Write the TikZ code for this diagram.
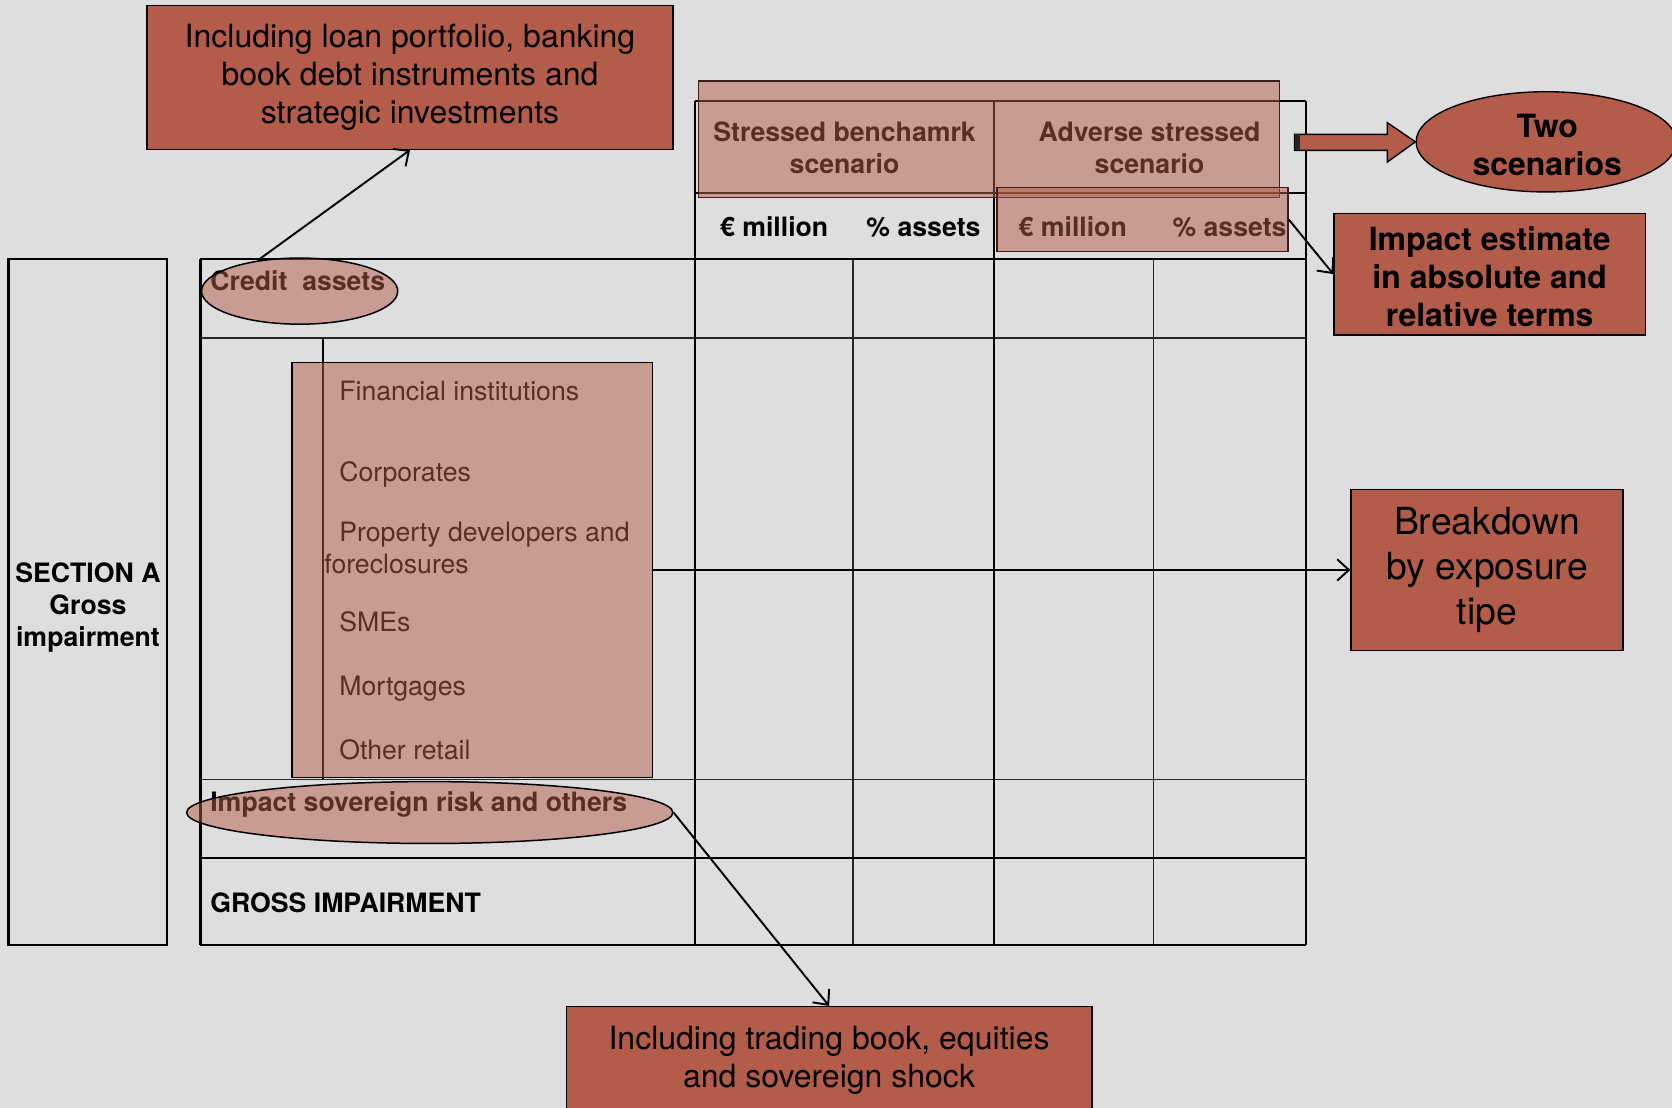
\documentclass[tikz,border=0pt]{standalone}
\usepackage{fontspec}
\setmainfont{TeX Gyre Heros}
\usetikzlibrary{shapes.geometric,arrows.meta,calc}
\definecolor{bgc}{RGB}{222,222,222}
\definecolor{rust}{RGB}{179,92,73}
\definecolor{ovborder}{RGB}{60,30,25}
\begin{document}
\begin{tikzpicture}[x=1pt,y=-1pt,
  thickline/.style={line width=2pt,black},
  thinline/.style={line width=1.1pt,black!85},
  rustbox/.style={draw=black,line width=1.3pt,fill=rust,rectangle,inner sep=0pt,align=center},
  pinkov/.style={fill=rust,fill opacity=0.5,draw=ovborder,line width=1.4pt,inner sep=0pt},
  arr/.style={-{Straight Barb[length=11pt,width=20pt,line width=1.8pt]},line width=1.8pt,black},
  big/.style={font=\fontsize{30}{36}\selectfont},
  bigbold/.style={font=\fontsize{30}{36}\selectfont\bfseries},
  mid/.style={font=\fontsize{25}{30}\selectfont},
  midbold/.style={font=\fontsize{25}{30}\selectfont\bfseries},
  txt/.style={inner sep=0pt,align=center}
]
\useasboundingbox (0,0) rectangle (1568,1039);
\clip (0,0) rectangle (1568,1039);
\fill[bgc] (0,0) rectangle (1568,1039);

% ---- table lines
\draw[thinline] (800,243) -- (800,886);
\draw[thinline] (1082,243) -- (1082,886);
\draw[thinline] (188,317) -- (1225,317);
\draw[thinline] (188,731) -- (1225,731);
\draw[line width=1.7pt,black] (303,317) -- (303,731);
\draw[thickline] (652,95) -- (1225,95);
\draw[thickline] (652,181) -- (1225,181);
\draw[thickline] (188,243) -- (1225,243);
\draw[thickline] (188,805) -- (1225,805);
\draw[thickline] (188,886) -- (1225,886);
\draw[thickline] (188,243) -- (188,886);
\draw[thickline] (652,95) -- (652,886);
\draw[thickline] (932,95) -- (932,886);
\draw[thickline] (1225,95) -- (1225,886);

% ---- section A
\node[draw=black,line width=2pt,minimum width=149pt,minimum height=643pt,inner sep=0pt] (secA) at (82.5,564.5) {};
\node[txt,midbold] (secAtext) at (82.5,570) {SECTION A\\Gross\\impairment};

% ---- texts under overlays
\node[txt,midbold] (t1) at (792,139) {Stressed benchamrk\\scenario};
\node[txt,midbold] (t2) at (1078,139) {Adverse stressed\\scenario};
\node[txt,midbold] (m1) at (726,213) {€ million};
\node[txt,midbold] (p1) at (866,213) {\% assets};
\node[txt,midbold] (m2) at (1006,213) {€ million};
\node[txt,midbold] (p2) at (1153,213) {\% assets};
\node[txt,midbold,anchor=base west] (ctext) at (197,272) {Credit~~assets};
\node[txt,mid,anchor=base west] (s1) at (318,376) {Financial institutions};
\node[txt,mid,anchor=base west] (s2) at (318,452) {Corporates};
\node[txt,mid,anchor=base west] (s3) at (318,508) {Property developers and};
\node[txt,mid,anchor=base west] (s3b) at (304,538) {foreclosures};
\node[txt,mid,anchor=base west] (s4) at (318,592) {SMEs};
\node[txt,mid,anchor=base west] (s5) at (318,652) {Mortgages};
\node[txt,mid,anchor=base west] (s6) at (318,712) {Other retail};
\node[txt,midbold,anchor=base west] (sovtext) at (197,761) {Impact sovereign risk and others};
\node[txt,midbold,anchor=base west] (gross) at (197,856) {GROSS IMPAIRMENT};

% ---- translucent overlays
\node[pinkov,rectangle,minimum width=545pt,minimum height=109pt] (hdr) at (927.5,130.5) {};
\node[pinkov,rectangle,minimum width=273pt,minimum height=60pt] (advsub) at (1071.5,206) {};
\node[pinkov,ellipse,draw=black,minimum width=184pt,minimum height=62pt] (credit) at (281,273) {};
\node[pinkov,rectangle,draw=black,minimum width=338pt,minimum height=389pt] (sectors) at (443,534.5) {};
\node[pinkov,ellipse,draw=black,minimum width=456pt,minimum height=58pt] (sov) at (403,762) {};

% ---- solid boxes
\node[rustbox,big,minimum width=493pt,minimum height=135pt] (loanbox) at (384.5,72.5)
  {Including loan portfolio, banking\\book debt instruments and\\strategic investments};
\node[rustbox,minimum width=493pt,minimum height=130pt] (tradbox) at (777.5,1009) {};
\node[txt,big] (tradtext) at (777.5,994.5) {Including trading book, equities\\and sovereign shock};
\node[rustbox,minimum width=244pt,minimum height=94pt,ellipse] (two) at (1450,133) {};
\node[txt,bigbold] (twotext) at (1451,136) {Two\\scenarios};
\node[rustbox,minimum width=292pt,minimum height=114pt] (impact) at (1397,257) {};
\node[txt,bigbold] (impacttext) at (1397,259.5) {Impact estimate\\in absolute and\\relative terms};
\node[rustbox,font=\fontsize{35}{42}\selectfont,minimum width=255pt,minimum height=151pt] (breakdown)
  at (1394.5,534.5) {Breakdown\\by exposure\\tipe};

% ---- block arrow to "Two scenarios"
\coordinate (bt) at (1214,133.5);
\draw[fill=rust,line width=1.3pt,line join=miter]
  ($(bt)+(0,-7.5)$) -- ($(bt)+(87,-7.5)$) -- ($(bt)+(87,-18.5)$) -- (two.west) --
  ($(bt)+(87,18.5)$) -- ($(bt)+(87,7.5)$) -- ($(bt)+(0,7.5)$) -- cycle;
\fill[black!85] ($(bt)+(0,-7.5)$) rectangle ($(bt)+(5,7.5)$);

% ---- connectors
\draw[arr] (credit.144) -- (loanbox.south);
\draw[arr] (sov.east) -- (tradbox.north);
\draw[arr] (advsub.east) -- (impact.west);
\draw[arr] (sectors.east) -- (breakdown.west);
\end{tikzpicture}
\end{document}
